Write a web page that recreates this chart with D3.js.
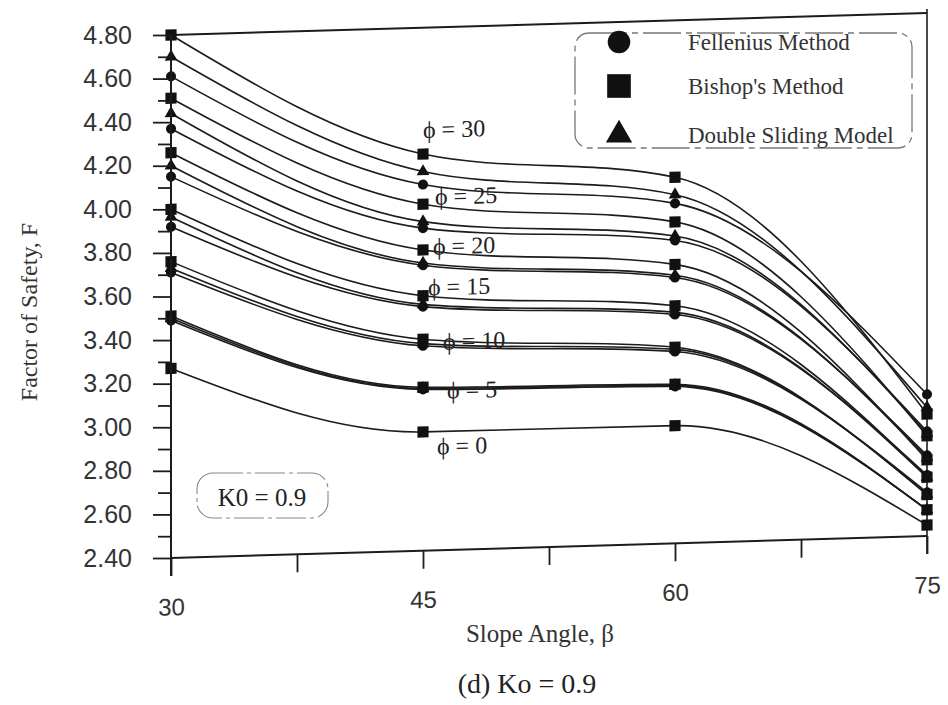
<!DOCTYPE html>
<html><head><meta charset="utf-8">
<script src="https://cdn.jsdelivr.net/npm/d3@7"></script>
<style>body{margin:0;background:#fff} svg{display:block}</style>
</head><body><svg id="chart" width="948" height="705"></svg>
<script>
// ---------------- data ----------------
const slopeAngles = [30, 45, 60, 75];
const phiValues = [30, 25, 20, 15, 10, 5, 0];
// Factor of safety per phi (rows follow phiValues), columns follow slopeAngles
const bishopFS = [
  [4.80, 4.22, 4.08, 2.96],
  [4.51, 3.99, 3.875, 2.86],
  [4.26, 3.78, 3.68, 2.75],
  [4.00, 3.57, 3.49, 2.67],
  [3.76, 3.37, 3.30, 2.59],
  [3.51, 3.15, 3.13, 2.52],
  [3.27, 2.945, 2.94, 2.45]
];
const doubleSlidingFS = [
  [4.70, 4.14, 4.00, 2.99],
  [4.44, 3.91, 3.81, 2.87],
  [4.20, 3.72, 3.63, 2.76],
  [3.965, 3.53, 3.46, 2.67],
  [3.73, 3.35, 3.29, 2.59],
  [3.50, 3.145, 3.125, 2.52],
  null
];
const felleniusFS = [
  [4.61, 4.08, 3.96, 3.05],
  [4.37, 3.88, 3.79, 2.88],
  [4.15, 3.71, 3.62, 2.77],
  [3.92, 3.52, 3.45, 2.68],
  [3.71, 3.34, 3.28, 2.60],
  [3.49, 3.14, 3.12, 2.52],
  null
];
const methodNames = ["Fellenius Method", "Bishop's Method", "Double Sliding Model"];
const xTickValues = [30, 37.5, 45, 52.5, 60, 67.5, 75];
const xTickLabels = [30, 45, 60, 75];
const yTickValues = d3.range(0, 25).map(i => +(2.4 + i * 0.1).toFixed(1));

// ---------------- layout ----------------
const svg = d3.select('#chart');
const x = d3.scaleLinear().domain([30, 75]).range([171, 927]);
const y = d3.scaleLinear().domain([2.4, 4.8]).range([558, 35]);
const ink = '#1c1c1c';
const sans = '"Liberation Sans", Arial, sans-serif';
const serif = '"Liberation Serif", "Times New Roman", serif';

const x0 = x(30);
const skewDeg = Math.atan(22 / (x(75) - x(30))) * 180 / Math.PI;
const plot = svg.append('g')
  .attr('transform', `translate(${x0},0) skewY(${-skewDeg}) translate(${-x0},0)`);

// frame (top, bottom, right)
plot.append('line').attr('x1', x(30)).attr('x2', x(75)).attr('y1', y(4.8)).attr('y2', y(4.8))
  .attr('stroke', ink).attr('stroke-width', 2);
plot.append('line').attr('x1', x(30)).attr('x2', x(75)).attr('y1', y(2.4)).attr('y2', y(2.4))
  .attr('stroke', ink).attr('stroke-width', 2);
plot.append('line').attr('x1', x(75)).attr('x2', x(75)).attr('y1', y(4.8) - 4).attr('y2', y(2.4) + 18)
  .attr('stroke', ink).attr('stroke-width', 1.6);

// x axis
const xAxis = plot.append('g').attr('transform', `translate(0,${y(2.4)})`)
  .call(d3.axisBottom(x).tickValues(xTickValues).tickSize(18)
    .tickFormat(d => xTickLabels.includes(d) ? d : ''));
xAxis.select('.domain').remove();
xAxis.selectAll('line').attr('stroke', ink).attr('stroke-width', 1.8);
xAxis.selectAll('text').attr('y', 49).attr('dy', '0.35em')
  .attr('font-family', sans).attr('font-size', 24).attr('fill', '#333');

// y axis (unskewed)
const yAxis = svg.append('g').attr('transform', `translate(${x0},0)`)
  .call(d3.axisLeft(y).tickValues(yTickValues).tickSize(18).tickPadding(21)
    .tickFormat((d, i) => i % 2 === 0 ? d3.format('.2f')(d) : ''));
yAxis.select('.domain').remove();
yAxis.selectAll('.tick line').attr('stroke', ink).attr('stroke-width', 1.8)
  .attr('x2', (d, i) => i % 2 === 0 ? -18 : -13);
yAxis.selectAll('text').attr('font-family', sans).attr('font-size', 25).attr('fill', '#333');
svg.append('line').attr('x1', x0).attr('x2', x0).attr('y1', y(4.8)).attr('y2', y(2.4) + 18)
  .attr('stroke', ink).attr('stroke-width', 2);

// curves
const line = d3.line().x((d, i) => x(slopeAngles[i])).y(d => y(d)).curve(d3.curveMonotoneX);
const allSeries = [];
phiValues.forEach((phi, k) => {
  [[felleniusFS[k], 'circle'], [bishopFS[k], 'square'], [doubleSlidingFS[k], 'triangle']]
    .forEach(([vals, shape]) => { if (vals) allSeries.push({ phi, vals, shape }); });
});
plot.selectAll('path.curve').data(allSeries).enter().append('path')
  .attr('class', 'curve').attr('d', d => line(d.vals))
  .attr('fill', 'none').attr('stroke', ink).attr('stroke-width', 1.6);

const symbolTypes = { circle: d3.symbolCircle, square: d3.symbolSquare, triangle: d3.symbolTriangle };
const symbolSizes = { circle: 80, square: 125, triangle: 70 };
const pts = [];
allSeries.forEach(s => s.vals.forEach((v, i) => pts.push({ x: slopeAngles[i], v, shape: s.shape })));
plot.selectAll('path.pt').data(pts).enter().append('path').attr('class', 'pt')
  .attr('transform', d => `translate(${x(d.x)},${y(d.v)})`)
  .attr('d', d => d3.symbol().type(symbolTypes[d.shape]).size(symbolSizes[d.shape])())
  .attr('fill', '#111');

// phi labels (placed beside the Bishop point at 45 degrees)
const labelOffsets = [[0, -24], [12, -7], [10, -3], [5, -8], [20, 3], [24, 4], [14, 15]];
plot.selectAll('text.phi').data(phiValues).enter().append('text').attr('class', 'phi')
  .attr('x', (d, k) => x(45) + labelOffsets[k][0])
  .attr('y', (d, k) => y(bishopFS[k][1]) + labelOffsets[k][1])
  .attr('dominant-baseline', 'central')
  .attr('font-family', serif).attr('font-size', 24).attr('fill', '#222')
  .text(d => `\u03D5 = ${d}`);

// legend
const legend = svg.append('g');
legend.append('rect').attr('x', 575).attr('y', 33).attr('width', 337).attr('height', 115).attr('rx', 14)
  .attr('fill', '#fff').attr('stroke', '#777').attr('stroke-width', 1.3).attr('stroke-dasharray', '38,5,6,5');
const legendShapes = ['circle', 'square', 'triangle'];
const legendSizes = { circle: 400, square: 560, triangle: 300 };
methodNames.forEach((name, i) => {
  const cy = [42, 86, 135][i];
  legend.append('path').attr('transform', `translate(619,${cy})`)
    .attr('d', d3.symbol().type(symbolTypes[legendShapes[i]]).size(legendSizes[legendShapes[i]])())
    .attr('fill', '#111');
  legend.append('text').attr('x', 688).attr('y', cy).attr('dominant-baseline', 'central')
    .attr('font-family', serif).attr('font-size', 23).attr('fill', '#333').text(name);
});

// K0 box
svg.append('rect').attr('x', 197).attr('y', 473).attr('width', 131).attr('height', 45).attr('rx', 16)
  .attr('fill', 'none').attr('stroke', '#888').attr('stroke-width', 1.1).attr('stroke-dasharray', '30,4,4,4');
svg.append('text').attr('x', 262).attr('y', 497).attr('text-anchor', 'middle').attr('dominant-baseline', 'central')
  .attr('font-family', serif).attr('font-size', 25).attr('fill', '#222').text('K0 = 0.9');

// axis titles
svg.append('text').attr('transform', 'translate(29,312) rotate(-90)').attr('text-anchor', 'middle')
  .attr('dominant-baseline', 'central').attr('font-family', serif).attr('font-size', 24).attr('fill', '#333')
  .text('Factor of Safety, F');
svg.append('text').attr('x', 540).attr('y', 633).attr('text-anchor', 'middle').attr('dominant-baseline', 'central')
  .attr('font-family', serif).attr('font-size', 25).attr('fill', '#333').text('Slope Angle, β');
svg.append('text').attr('x', 527).attr('y', 683).attr('text-anchor', 'middle').attr('dominant-baseline', 'central')
  .attr('font-family', serif).attr('font-size', 28).attr('fill', '#222').text('(d) Ko = 0.9');
</script></body></html>
